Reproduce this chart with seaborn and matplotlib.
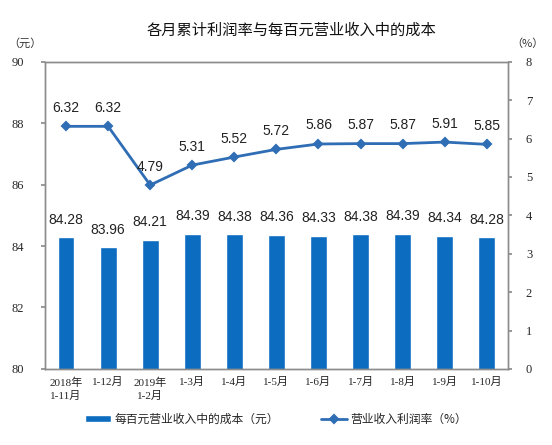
import matplotlib
matplotlib.use("Agg")
import matplotlib.pyplot as plt
import seaborn as sns
import pandas as pd

# data
periods = ['2018年\n1-11月', '1-12月', '2019年\n1-2月', '1-3月', '1-4月', '1-5月',
           '1-6月', '1-7月', '1-8月', '1-9月', '1-10月']
cost_per_100 = [84.28, 83.96, 84.21, 84.39, 84.38, 84.36, 84.33, 84.38, 84.39, 84.34, 84.28]
profit_rate = [6.32, 6.32, 4.79, 5.31, 5.52, 5.72, 5.86, 5.87, 5.87, 5.91, 5.85]

df = pd.DataFrame({'period': periods, 'cost': cost_per_100, 'rate': profit_rate})

sns.set_theme(style="white")
plt.rcParams['font.family'] = ['Noto Sans CJK SC', 'DejaVu Sans']

bar_color = '#0c6cc0'
line_color = '#2f6db5'
serif = ['Liberation Serif', 'Noto Sans CJK SC']

fig = plt.figure(figsize=(5.52, 4.45), dpi=100)
ax = fig.add_axes([0.0815, 0.171, 0.8385, 0.690])

sns.barplot(data=df, x='period', y='cost', color=bar_color, width=0.4,
            saturation=1, ax=ax, label='每百元营业收入中的成本（元）')
ax.set_ylim(80, 90)
ax.set_yticks(range(80, 91, 2))
ax.set_xlabel('')
ax.set_ylabel('')

for i, v in enumerate(cost_per_100):
    ax.text(i, v + 0.35, f'{v:.2f}', ha='center', va='bottom', fontsize=10,
            family='Liberation Sans', color='#222222')

ax2 = ax.twinx()
sns.pointplot(data=df, x='period', y='rate', color=line_color, markers='D',
              markersize=4, linewidth=2, ax=ax2, label='营业收入利润率（%）')
ax2.set_ylim(0, 8)
ax2.set_yticks(range(0, 9))
ax2.set_ylabel('')
ax2.set_xlabel('')

for i, v in enumerate(profit_rate):
    ax2.text(i, v + 0.3, f'{v:.2f}', ha='center', va='bottom', fontsize=10,
             family='Liberation Sans', color='#222222')

ax.set_xlim(-0.5, len(periods) - 0.5)

for a in (ax, ax2):
    for s in a.spines.values():
        s.set_color('#8c8c8c')
        s.set_linewidth(1)

ax.tick_params(axis='y', direction='out', length=3, color='#8c8c8c', labelsize=9, pad=12)
ax2.tick_params(axis='y', direction='out', length=3, color='#8c8c8c', labelsize=9, pad=10)
ax.tick_params(axis='x', length=0, labelsize=8, pad=6)
for lab in ax.get_yticklabels() + ax2.get_yticklabels():
    lab.set_family(serif)
for lab in ax.get_xticklabels():
    lab.set_family(['Liberation Serif', 'Noto Sans CJK SC'])
    lab.set_linespacing(1.4)

ax.set_xticks([i + 0.5 for i in range(len(periods) - 1)], minor=True)
ax.tick_params(axis='x', which='minor', direction='in', length=3, color='#8c8c8c')

fig.text(0.528, 0.932, '各月累计利润率与每百元营业收入中的成本', ha='center', va='center',
         fontsize=11, color='#111111')
fig.text(0.045, 0.903, '（元）', ha='center', va='center', fontsize=8, color='#333333')
fig.text(0.955, 0.903, '（%）', ha='center', va='center', fontsize=8, color='#333333')

h1, l1 = ax.get_legend_handles_labels()
h2, l2 = ax2.get_legend_handles_labels()
if ax2.get_legend() is not None:
    ax2.get_legend().remove()
ax.legend(h1 + h2, l1 + l2, loc='center', bbox_to_anchor=(0.5, 0.058),
          bbox_transform=fig.transFigure, ncol=2, frameon=False, fontsize=8.5,
          handlelength=2.2, handleheight=0.5, columnspacing=3.5, handletextpad=0.3)

fig.savefig('out.png', dpi=100)
